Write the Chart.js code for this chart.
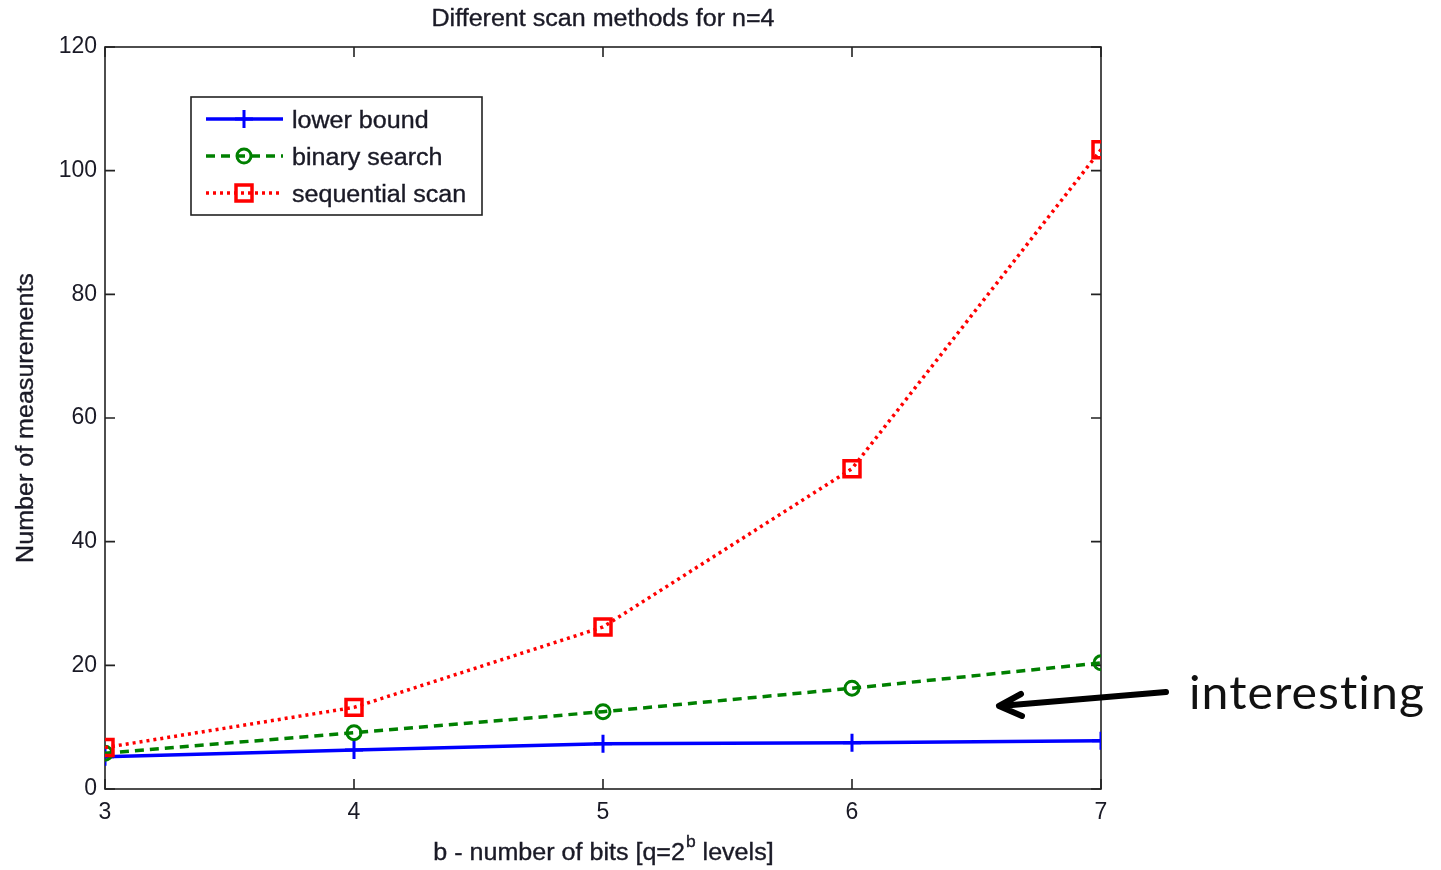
<!DOCTYPE html>
<html>
<head>
<meta charset="utf-8">
<script src="https://cdn.jsdelivr.net/npm/chart.js@4.4.1/dist/chart.umd.min.js"></script>
<style>
  html, body { margin: 0; padding: 0; background: #fff; }
  #wrap { width: 1441px; height: 870px; }
</style>
</head>
<body>
<div id="wrap"><canvas id="c" width="1441" height="870"></canvas></div>
<script>
// Number of bits b (x axis)
const bits = [3, 4, 5, 6, 7];
// Number of measurements for each scan method
const lowerBound = [5.2, 6.3, 7.3, 7.5, 7.8];
const binarySearch = [5.8, 9.1, 12.5, 16.3, 20.4];
const sequentialScan = [6.7, 13.2, 26.2, 51.8, 103.4];
// Axis ticks
const yTicks = [0, 20, 40, 60, 80, 100, 120];
const xTicks = [3, 4, 5, 6, 7];

const titleText = 'Different scan methods for n=4';
const yTitle = 'Number of measurements';
const seriesNames = ['lower bound', 'binary search', 'sequential scan'];
const noteText = 'interesting';

const FONT = '"Liberation Sans", Arial, sans-serif';
const TEXT_COLOR = '#1a1a26';
const SX = 1.09;

function pts(ys) { return bits.map((b, i) => ({ x: b, y: ys[i] })); }

// Draw text stretched horizontally by SX
function stretchedText(ctx, text, x, y, font, align) {
  ctx.save();
  ctx.font = font;
  ctx.fillStyle = TEXT_COLOR;
  ctx.strokeStyle = TEXT_COLOR;
  ctx.lineWidth = 0.35;
  ctx.textBaseline = 'middle';
  const w = ctx.measureText(text).width * SX;
  let left = x;
  if (align === 'center') left = x - w / 2;
  else if (align === 'right') left = x - w;
  ctx.translate(left, y);
  ctx.scale(SX, 1);
  ctx.textAlign = 'left';
  ctx.fillText(text, 0, 0);
  ctx.strokeText(text, 0, 0);
  ctx.restore();
  return w;
}

function drawMarker(ctx, style, x, y, color) {
  ctx.save();
  ctx.strokeStyle = color;
  ctx.beginPath();
  if (style === 'cross') {
    ctx.lineWidth = 3;
    ctx.moveTo(x - 9, y); ctx.lineTo(x + 9, y);
    ctx.moveTo(x, y - 9); ctx.lineTo(x, y + 9);
  } else if (style === 'circle') {
    ctx.lineWidth = 3;
    ctx.arc(x, y, 7, 0, Math.PI * 2);
  } else {
    ctx.lineWidth = 3.5;
    ctx.rect(x - 8, y - 8, 16, 16);
  }
  ctx.stroke();
  ctx.restore();
}

const frame = {
  id: 'frame',
  beforeDatasetsDraw(chart) {
    const { ctx, chartArea: a, scales } = chart;
    ctx.save();
    ctx.strokeStyle = '#222';
    ctx.lineWidth = 1.6;
    ctx.strokeRect(a.left, a.top, a.right - a.left, a.bottom - a.top);
    ctx.beginPath();
    xTicks.forEach(v => {
      const px = scales.x.getPixelForValue(v);
      ctx.moveTo(px, a.bottom); ctx.lineTo(px, a.bottom - 10);
      ctx.moveTo(px, a.top); ctx.lineTo(px, a.top + 10);
    });
    yTicks.forEach(v => {
      const py = scales.y.getPixelForValue(v);
      ctx.moveTo(a.left, py); ctx.lineTo(a.left + 10, py);
      ctx.moveTo(a.right, py); ctx.lineTo(a.right - 10, py);
    });
    ctx.stroke();
    ctx.restore();
  },
  afterDraw(chart) {
    const { ctx, chartArea: a } = chart;
    const f = '23px ' + FONT;
    const cx = (a.left + a.right) / 2;

    // Title
    stretchedText(ctx, titleText, cx, 20, f, 'center');

    // X axis title with superscript
    ctx.save();
    const p1 = 'b - number of bits [q=2';
    const p3 = ' levels]';
    const fs = '16px ' + FONT;
    ctx.font = f;
    const w1 = ctx.measureText(p1).width * SX;
    const w3 = ctx.measureText(p3).width * SX;
    ctx.font = fs;
    const w2 = ctx.measureText('b').width * SX;
    ctx.restore();
    const x0 = cx - (w1 + w2 + w3) / 2;
    const ty = 854;
    stretchedText(ctx, p1, x0, ty, f, 'left');
    stretchedText(ctx, 'b', x0 + w1 + 1, ty - 11, fs, 'left');
    stretchedText(ctx, p3, x0 + w1 + w2 + 1, ty, f, 'left');

    // Y axis title
    ctx.save();
    ctx.translate(27, (a.top + a.bottom) / 2);
    ctx.rotate(-Math.PI / 2);
    stretchedText(ctx, yTitle, 0, 0, f, 'center');
    ctx.restore();

    // Legend
    const lx = 191, ly = 97, lw = 291, lh = 118;
    ctx.save();
    ctx.fillStyle = '#fff';
    ctx.fillRect(lx, ly, lw, lh);
    ctx.strokeStyle = '#222';
    ctx.lineWidth = 1.6;
    ctx.strokeRect(lx, ly, lw, lh);
    ctx.restore();
    chart.data.datasets.forEach((ds, i) => {
      const ry = 119 + i * 37;
      ctx.save();
      ctx.strokeStyle = ds.borderColor;
      ctx.lineWidth = ds.borderWidth;
      ctx.setLineDash(ds.borderDash || []);
      ctx.beginPath();
      ctx.moveTo(206, ry); ctx.lineTo(283, ry);
      ctx.stroke();
      ctx.restore();
      drawMarker(ctx, ds.pointStyle, 244, ry, ds.borderColor);
      stretchedText(ctx, ds.label, 292, ry + 3, f, 'left');
    });

    // Annotation arrow and note
    ctx.save();
    ctx.strokeStyle = '#000';
    ctx.lineWidth = 6;
    ctx.lineCap = 'round';
    ctx.lineJoin = 'round';
    ctx.beginPath();
    ctx.moveTo(1166, 692); ctx.lineTo(1000, 706);
    ctx.moveTo(1021, 694); ctx.lineTo(999, 706); ctx.lineTo(1022, 716);
    ctx.stroke();
    ctx.font = '46px Lato, "Open Sans", sans-serif';
    ctx.letterSpacing = '1px';
    ctx.fillStyle = '#111';
    ctx.textBaseline = 'alphabetic';
    const nw = ctx.measureText(noteText).width;
    ctx.translate(1189, 709);
    ctx.scale(236 / nw, 1);
    ctx.fillText(noteText, 0, 0);
    ctx.restore();
  }
};

new Chart(document.getElementById('c'), {
  type: 'line',
  data: {
    datasets: [
      {
        label: seriesNames[0], data: pts(lowerBound),
        borderColor: '#0000ff', borderWidth: 3.5,
        pointStyle: 'cross', pointRadius: 9, pointBorderWidth: 3,
        pointBackgroundColor: 'transparent', order: 3
      },
      {
        label: seriesNames[1], data: pts(binarySearch),
        borderColor: '#008000', borderWidth: 3.5, borderDash: [9, 6],
        pointStyle: 'circle', pointRadius: 7, pointBorderWidth: 3,
        pointBackgroundColor: 'transparent', order: 2
      },
      {
        label: seriesNames[2], data: pts(sequentialScan),
        borderColor: '#ff0000', borderWidth: 3.5, borderDash: [3, 4],
        pointStyle: 'rect', pointRadius: 11.3, pointBorderWidth: 3.5,
        pointBackgroundColor: 'transparent', order: 1
      }
    ]
  },
  options: {
    responsive: false,
    animation: false,
    events: [],
    layout: { padding: { top: 47, right: 340, left: 0, bottom: 0 } },
    plugins: { legend: { display: false }, title: { display: false }, tooltip: { enabled: false } },
    scales: {
      x: {
        type: 'linear', min: 3, max: 7,
        grid: { display: false, drawTicks: false },
        border: { display: false },
        afterBuildTicks(s) { s.ticks = xTicks.map(v => ({ value: v })); },
        ticks: { padding: 10, color: TEXT_COLOR, font: { family: FONT, size: 23 }, maxRotation: 0 },
        afterFit(s) { s.height = 81; }
      },
      y: {
        min: 0, max: 120,
        grid: { display: false, drawTicks: false },
        border: { display: false },
        afterBuildTicks(s) { s.ticks = yTicks.map(v => ({ value: v })); },
        ticks: { padding: 8, color: TEXT_COLOR, font: { family: FONT, size: 23 } },
        afterFit(s) { s.width = 105; }
      }
    }
  },
  plugins: [frame]
});
</script>
</body>
</html>
